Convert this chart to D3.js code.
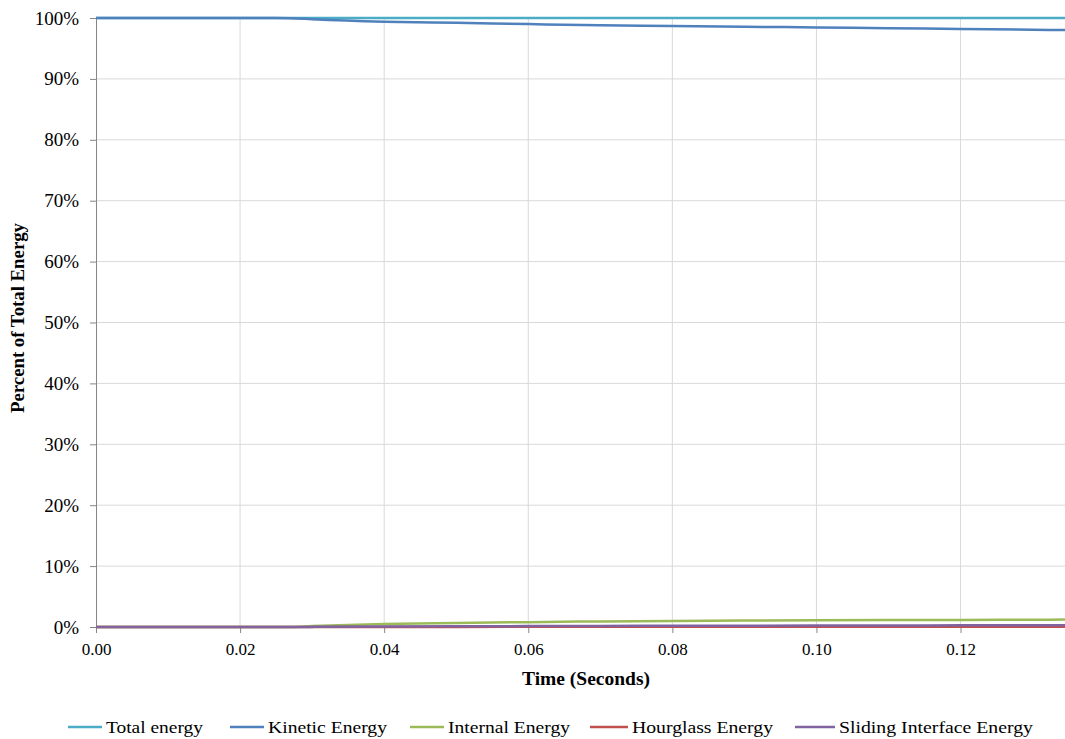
<!DOCTYPE html>
<html>
<head>
<meta charset="utf-8">
<script src="https://cdn.jsdelivr.net/npm/d3@7"></script>
<style>
  html, body { margin: 0; padding: 0; background: #fff; }
  svg { display: block; }
  text { font-family: "Liberation Serif", "DejaVu Serif", serif; fill: #000; }
</style>
</head>
<body>
<div id="chart"></div>
<script>
// ---- data ----
const time      = [0, 0.01, 0.02, 0.027, 0.03, 0.04, 0.05, 0.06, 0.07, 0.08, 0.09, 0.10, 0.11, 0.12, 0.13, 0.1345];
const totalE    = [100, 100, 100, 100, 100, 100, 100, 100, 100, 100, 100, 100, 100, 100, 100, 100];
const kineticE  = [100, 100, 100, 99.97, 99.8, 99.4, 99.2, 99.0, 98.8, 98.7, 98.57, 98.45, 98.32, 98.2, 98.07, 98.02];
const internalE = [0, 0, 0, 0.02, 0.15, 0.5, 0.66, 0.8, 0.92, 1.0, 1.05, 1.1, 1.14, 1.17, 1.2, 1.22];
const hourglassE= [0, 0, 0, 0, 0, 0.01, 0.02, 0.03, 0.03, 0.04, 0.04, 0.05, 0.05, 0.05, 0.05, 0.05];
const slidingE  = [0, 0, 0, 0, 0.02, 0.08, 0.12, 0.15, 0.18, 0.2, 0.22, 0.24, 0.26, 0.27, 0.28, 0.28];
const seriesNames = ["Total energy", "Kinetic Energy", "Internal Energy", "Hourglass Energy", "Sliding Interface Energy"];
const seriesColors = ["#4bacc6", "#4f81bd", "#9bbb59", "#c0504d", "#8064a2"];
const xTicks = [0, 0.02, 0.04, 0.06, 0.08, 0.10, 0.12];
const yTicks = [0, 10, 20, 30, 40, 50, 60, 70, 80, 90, 100];

const seriesValues = [totalE, kineticE, internalE, hourglassE, slidingE];

const W = 1065, H = 739;
const m = { left: 96, right: 0, top: 18, bottom: 112 };

const svg = d3.select("#chart").append("svg").attr("width", W).attr("height", H);

const x = d3.scaleLinear().domain([0, 0.1345]).range([m.left, W - m.right]);
const y = d3.scaleLinear().domain([0, 100]).range([H - m.bottom, m.top]);

// gridlines
svg.append("g").selectAll("line.h").data(yTicks.filter(d => d > 0)).join("line")
  .attr("x1", m.left).attr("x2", W).attr("y1", d => y(d)).attr("y2", d => y(d))
  .attr("stroke", "#d9d9d9").attr("stroke-width", 1);
svg.append("g").selectAll("line.v").data(xTicks.filter(d => d > 0)).join("line")
  .attr("x1", d => x(d)).attr("x2", d => x(d)).attr("y1", m.top).attr("y2", y(0))
  .attr("stroke", "#d9d9d9").attr("stroke-width", 1);

// axes
const yAxis = svg.append("g").attr("transform", `translate(${m.left},0)`)
  .call(d3.axisLeft(y).tickValues(yTicks).tickSize(6).tickSizeOuter(0).tickFormat(d => d + "%"));
yAxis.select(".domain").attr("stroke", "#868686");
yAxis.selectAll(".tick line").attr("stroke", "#868686");
yAxis.selectAll(".tick text").attr("x", -17).attr("font-size", 19)
  .attr("font-family", "Liberation Serif").attr("fill", "#000");

const xAxis = svg.append("g").attr("transform", `translate(0,${y(0)})`)
  .call(d3.axisBottom(x).tickValues(xTicks).tickSize(6).tickSizeOuter(0).tickFormat(d3.format(".2f")));
xAxis.select(".domain").attr("stroke", "#868686");
xAxis.selectAll(".tick line").attr("stroke", "#868686");
xAxis.selectAll(".tick text").attr("y", 16).attr("font-size", 17)
  .attr("font-family", "Liberation Serif").attr("fill", "#000");

// lines
const lineGen = vals => d3.line().x((d, i) => x(time[i])).y(d => y(d)).curve(d3.curveMonotoneX)(vals);
svg.append("g").selectAll("path").data(seriesValues).join("path")
  .attr("d", d => lineGen(d))
  .attr("fill", "none")
  .attr("stroke", (d, i) => seriesColors[i])
  .attr("stroke-width", 2.5);

// axis titles
svg.append("text").attr("x", 586).attr("y", 685).attr("text-anchor", "middle")
  .attr("font-size", 18).attr("font-weight", "bold")
  .attr("textLength", 128).attr("lengthAdjust", "spacingAndGlyphs").text("Time (Seconds)");
svg.append("text").attr("transform", "translate(24,318) rotate(-90)").attr("text-anchor", "middle")
  .attr("font-size", 18).attr("font-weight", "bold")
  .attr("textLength", 190).attr("lengthAdjust", "spacingAndGlyphs").text("Percent of Total Energy");

// legend
const legX = [68, 230, 410, 590, 795];
const legLineW = [34, 34, 34, 38, 40];
const legTextW = [97, 119, 122, 141, 194];
const legY = 727;
const leg = svg.append("g");
seriesNames.forEach((name, i) => {
  leg.append("line").attr("x1", legX[i]).attr("x2", legX[i] + legLineW[i])
    .attr("y1", legY).attr("y2", legY).attr("stroke", seriesColors[i]).attr("stroke-width", 2.5);
  leg.append("text").attr("x", legX[i] + legLineW[i] + 4).attr("y", legY + 6)
    .attr("font-size", 17).attr("textLength", legTextW[i]).attr("lengthAdjust", "spacingAndGlyphs")
    .text(name);
});
</script>
</body>
</html>
